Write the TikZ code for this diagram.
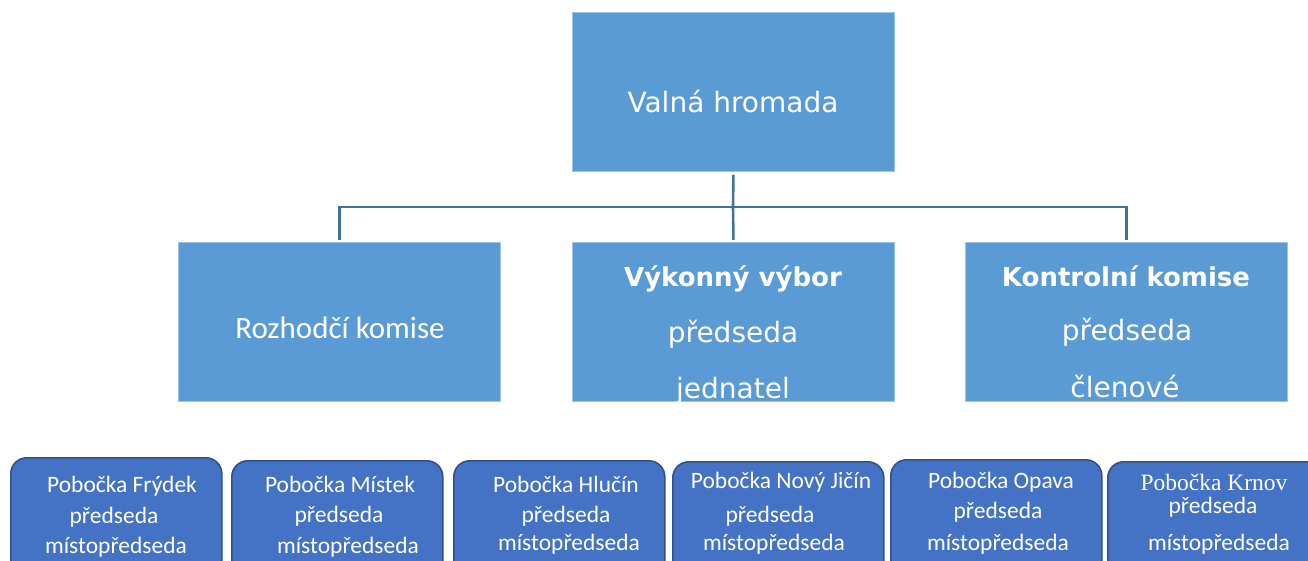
\documentclass[tikz,border=0pt]{standalone}
\usepackage{fontspec}
\setmainfont{Carlito}
\newfontfamily\comicf{DejaVu Sans}
\newfontfamily\timesf{Liberation Serif}
\definecolor{midblue}{HTML}{5B9BD5}
\definecolor{darkfill}{HTML}{4472C4}
\definecolor{darkedge}{HTML}{2F528F}
\definecolor{connc}{HTML}{41719C}
\definecolor{boxedge}{HTML}{9DC3E6}
\begin{document}
\begin{tikzpicture}[x=1pt,y=-1pt,
  bigbox/.style={draw=boxedge, line width=0.8pt, fill=midblue, rectangle, inner sep=0pt, anchor=north west, minimum width=322pt, minimum height=159pt},
  branch/.style={draw=darkedge, line width=1.6pt, fill=darkfill, rectangle, rounded corners=16pt, inner sep=0pt, anchor=north west, minimum width=211pt, minimum height=118pt},
  conn/.style={draw=connc, line width=2.6pt},
  wtxt/.style={text=white, anchor=base, inner sep=0pt},
  comic/.style={wtxt, font=\comicf\fontsize{28}{34}\selectfont},
  comicb/.style={wtxt, font=\comicf\bfseries\fontsize{26}{32}\selectfont},
  calib/.style={wtxt, font=\fontsize{31}{37}\selectfont},
  smalltxt/.style={wtxt, font=\fontsize{23.5}{28}\selectfont},
  smalltimes/.style={wtxt, font=\timesf\fontsize{23.5}{28}\selectfont}]
\useasboundingbox (0,0) rectangle (1308,561);
\clip (0,0) rectangle (1308,561);
\fill[white] (0,0) rectangle (1308,561);

% top level
\node[bigbox] (top) at (572,12) {};
\node[comic] (topt) at (733,113) {Valná hromada};

% second level
\node[bigbox] (rk) at (178,242) {};
\node[bigbox] (vv) at (572,242) {};
\node[bigbox] (kk) at (965,242) {};

\node[calib] (rkt) at (340,338) {Rozhodčí komise};

\begin{scope}
  \clip (vv.north west) rectangle (vv.south east);
  \node[comicb] (vv1) at (733,286) {Výkonný výbor};
  \node[comic] (vv2) at (733,342) {předseda};
  \node[comic] (vv3) at (733,398) {jednatel};
\end{scope}
\begin{scope}
  \clip (kk.north west) rectangle (kk.south east);
  \node[comicb] (kk1) at (1126,287) {Kontrolní komise};
  \node[comic] (kk2) at (1127,340) {předseda};
  \node[comic] (kk3) at (1125,397) {členové};
\end{scope}

% connectors
\coordinate (bus) at (733,207);
\draw[conn] ([yshift=-3pt]top.south) -- (bus);
\draw[conn] ([yshift=2pt]rk.north) |- (bus) -| ([yshift=2pt]kk.north);
\draw[conn] (bus) -- ([yshift=2pt]vv.north);

% branches
\node[branch] (b1) at (10,457) {};
\node[branch] (b2) at (231,460) {};
\node[branch] (b3) at (453,460) {};
\node[branch] (b4) at (672,461) {};
\node[branch] (b5) at (890,459) {};
\node[branch, minimum width=220pt] (b6) at (1107,461) {};

\node[smalltxt] (b1a) at (122,492) {Pobočka Frýdek};
\node[smalltxt] (b1b) at (114,523) {předseda};
\node[smalltxt] (b1c) at (116,553) {místopředseda};

\node[smalltxt] (b2a) at (340,492) {Pobočka Místek};
\node[smalltxt] (b2b) at (339,522) {předseda};
\node[smalltxt] (b2c) at (348,553) {místopředseda};

\node[smalltxt] (b3a) at (566,492) {Pobočka Hlučín};
\node[smalltxt] (b3b) at (566,522) {předseda};
\node[smalltxt] (b3c) at (569,550) {místopředseda};

\node[smalltxt] (b4a) at (781,488) {Pobočka Nový Jičín};
\node[smalltxt] (b4b) at (770,522) {předseda};
\node[smalltxt] (b4c) at (774,550) {místopředseda};

\node[smalltxt] (b5a) at (1001,488) {Pobočka Opava};
\node[smalltxt] (b5b) at (998,518) {předseda};
\node[smalltxt] (b5c) at (998,550) {místopředseda};

\node[smalltimes] (b6a) at (1214,490) {Pobočka Krnov};
\node[smalltxt] (b6b) at (1213,513) {předseda};
\node[smalltxt] (b6c) at (1219,550) {místopředseda};
\end{tikzpicture}
\end{document}
